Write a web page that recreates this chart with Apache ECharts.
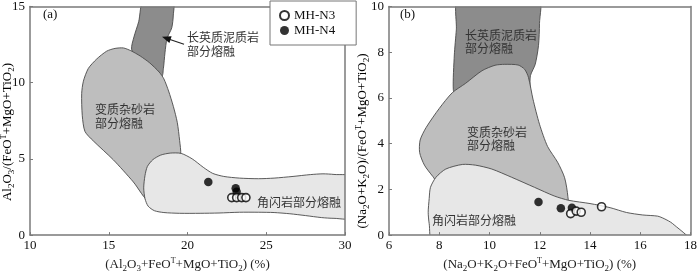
<!DOCTYPE html>
<html><head><meta charset="utf-8">
<script src="https://cdn.jsdelivr.net/npm/echarts@6/dist/echarts.min.js"></script>
<style>html,body{margin:0;padding:0;background:#fff}#c{width:700px;height:278px}</style>
</head><body><div id="c"></div>
<script>
// ---------- data ----------
const legendNames = ['MH-N3', 'MH-N4'];
const xTicksA = [10, 15, 20, 25, 30];
const yTicksA = [0, 5, 10, 15];
const xTicksB = [6, 8, 10, 12, 14, 16, 18];
const yTicksB = [0, 2, 4, 6, 8, 10];

// panel (a) fields
const aPelite = [[17.24,15.5],[19.08,15.5],[19.1,14.44],[19.0,13.6],[18.7,12.9],[18.57,11.96],[18.47,10.93],[18.36,10.4],[17.6,10.6],[16.9,11.2],[16.45,12.2],[16.6,13.0],[16.9,14.0]];
const aGreywacke = [[14.87,12.07],[15.4,12.25],[15.93,12.28],[16.4,12.1],[17.0,11.75],[17.6,11.3],[18.2,10.7],[18.5,10.25],[18.8,9.45],[19.1,8.45],[19.35,7.4],[19.5,6.2],[19.57,5.3],[19.3,3.8],[18.5,2.7],[17.6,2.15],[16.56,3.49],[15.29,4.94],[14.02,6.18],[13.49,6.8],[13.32,7.83],[13.28,9.28],[13.39,10.1],[13.7,10.93],[14.23,11.55]];
const aAmphibolite = [[17.22,3.1],[17.3,3.9],[17.45,4.5],[17.8,4.95],[18.3,5.25],[18.9,5.38],[19.6,5.36],[20.3,5.0],[21.0,4.45],[21.6,4.05],[22.3,3.85],[23.3,3.74],[24.5,3.7],[25.5,3.74],[26.7,3.85],[27.8,3.97],[28.6,4.02],[29.3,3.98],[30.6,3.8],[30.6,1.15],[29.3,1.1],[28.5,1.15],[27.5,1.28],[26.5,1.4],[25.5,1.48],[24.5,1.5],[23.3,1.5],[22.0,1.45],[20.8,1.43],[19.5,1.43],[18.5,1.48],[17.9,1.6],[17.5,1.9],[17.3,2.4]];
// panel (b) fields
const bPelite = [[8.78,10.4],[11.95,10.4],[11.99,9.26],[11.95,8.29],[11.82,7.47],[11.63,6.98],[11.5,6.0],[8.7,6.0],[8.56,6.36],[8.6,7.88],[8.68,8.98]];
const bGreywacke = [[10.61,7.47],[11.14,7.44],[11.4,7.25],[11.55,6.9],[11.73,5.95],[11.99,4.85],[12.31,3.88],[12.71,3.19],[12.99,2.51],[13.12,1.68],[13.1,1.2],[10.0,1.5],[7.94,2.31],[7.74,2.57],[7.41,3.06],[7.22,3.61],[7.24,4.16],[7.48,4.71],[8.0,5.54],[8.52,6.23],[9.05,6.64],[9.7,7.19],[10.22,7.43]];
const bAmphibolite = [[7.65,2.09],[7.87,2.53],[8.26,2.89],[8.92,3.09],[9.44,3.06],[10.09,2.89],[10.88,2.53],[11.79,2.09],[12.58,1.71],[13.16,1.52],[14.0,1.38],[14.8,1.2],[15.45,0.99],[16.1,0.88],[16.69,0.83],[16.95,0.72],[17.28,0.51],[18.0,-0.3],[7.76,-0.3],[7.6,0.5],[7.56,1.0],[7.6,1.6]];

// samples
const aN3 = [[22.81,2.46],[23.12,2.46],[23.44,2.46],[23.71,2.46]];
const aN4 = [[21.32,3.49],[23.06,3.08],[23.12,2.85]];
const bN3 = [[13.23,0.94],[13.45,1.05],[13.65,1.0],[14.46,1.24]];
const bN4 = [[11.95,1.45],[12.84,1.17],[13.28,1.2]];

// ---------- chart ----------
const SERIF = 'Liberation Serif';
const CJK = 'Noto Sans CJK SC';
const AXC = '#7a7a7a';
const FILL_DARK = '#8c8c8c', FILL_MID = '#bebebe', FILL_LIGHT = '#e7e7e7', EDGE = '#4a4a4a';

const rich = {
  n: {fontFamily: SERIF, fontSize: 13, color: '#222', lineHeight: 16},
  s: {fontFamily: SERIF, fontSize: 9, color: '#222', verticalAlign: 'bottom'},
  p: {fontFamily: SERIF, fontSize: 8, color: '#222', verticalAlign: 'top'}
};
const xNameA = '{n|(Al}{s|2}{n|O}{s|3}{n|+FeO}{p|T}{n|+MgO+TiO}{s|2}{n|) (%)}';
const yNameA = '{n|Al}{s|2}{n|O}{s|3}{n|/(FeO}{p|T}{n|+MgO+TiO}{s|2}{n|)}';
const xNameB = '{n|(Na}{s|2}{n|O+K}{s|2}{n|O+FeO}{p|T}{n|+MgO+TiO}{s|2}{n|) (%)}';
const yNameB = '{n|(Na}{s|2}{n|O+K}{s|2}{n|O)/(FeO}{p|T}{n|+MgO+TiO}{s|2}{n|)}';

function mainX(idx, ticks, name) {
  return {
    gridIndex: idx, type: 'value', min: ticks[0], max: ticks[ticks.length-1],
    interval: ticks[1]-ticks[0], z: 10,
    name: name, nameLocation: 'middle', nameGap: 19,
    nameTextStyle: {rich: rich},
    axisLine: {show: true, lineStyle: {color: AXC, width: 1.5}},
    axisTick: {show: true, inside: true, length: 3, lineStyle: {color: AXC}},
    axisLabel: {margin: 4, fontFamily: SERIF, fontSize: 13, color: '#111'},
    splitLine: {show: false}
  };
}
function mainY(idx, ticks) {
  return {
    gridIndex: idx, type: 'value', min: ticks[0], max: ticks[ticks.length-1],
    interval: ticks[1]-ticks[0], z: 10,
    axisLine: {show: true, lineStyle: {color: AXC, width: 1.5}},
    axisTick: {show: true, inside: true, length: 3, lineStyle: {color: AXC}},
    axisLabel: {margin: 5, fontFamily: SERIF, fontSize: 13, color: '#111'},
    splitLine: {show: false}
  };
}
function frameAxis(idx, pos, ticks) {
  return {
    gridIndex: idx, type: 'value', position: pos, min: ticks[0], max: ticks[ticks.length-1], z: 10,
    axisLine: {show: true, onZero: false, lineStyle: {color: AXC, width: 1.5}},
    axisTick: {show: false}, axisLabel: {show: false}, splitLine: {show: false}
  };
}
function polySeries(data, gi, color, z) {
  return {
    type: 'custom', xAxisIndex: gi, yAxisIndex: gi, data: data, silent: true, z: z, clip: true,
    encode: {x: 0, y: 1},
    renderItem: function (params, api) {
      if (params.dataIndex !== 0) return null;
      const pts = data.map(p => api.coord(p));
      return {type: 'polygon', shape: {points: pts, smooth: 0.25},
              style: {fill: color, stroke: EDGE, lineWidth: 0.9}};
    }
  };
}
const N3style = {symbol: 'circle', symbolSize: 8, itemStyle: {color: '#fff', borderColor: '#000', borderWidth: 1.6}};
const N4style = {symbol: 'circle', symbolSize: 8.5, itemStyle: {color: '#000', borderColor: '#000', borderWidth: 0}};
function scat(name, data, gi, st) {
  return Object.assign({type: 'scatter', name: name, xAxisIndex: gi, yAxisIndex: gi, data: data, z: 5, silent: true}, st);
}

function cjk(text, x, y, lh) {
  return {type: 'text', x: x, y: y, z: 20, silent: true,
    style: {text: text, font: '12px "' + CJK + '"', fill: '#333', lineHeight: lh, textVerticalAlign: 'top'}};
}

const option = {
  animation: false,
  backgroundColor: '#fff',
  grid: [
    {left: 30, top: 1, width: 315, height: 242},
    {left: 389, top: 2, width: 306, height: 242}
  ],
  xAxis: [
    mainX(0, xTicksA, xNameA), mainX(1, xTicksB, xNameB),
    frameAxis(0, 'top', xTicksA), frameAxis(1, 'top', xTicksB)
  ],
  yAxis: [
    mainY(0, yTicksA), mainY(1, yTicksB),
    frameAxis(0, 'right', yTicksA), frameAxis(1, 'right', yTicksB)
  ],
  legend: {
    data: legendNames, orient: 'vertical', left: 270, top: 1,
    padding: [8, 21, 8, 9], itemGap: 2, itemWidth: 9, itemHeight: 9,
    backgroundColor: '#fff', borderColor: '#777', borderWidth: 1, borderRadius: 0,
    textStyle: {fontFamily: SERIF, fontSize: 13, color: '#111'},
    selectedMode: false, z: 30
  },
  series: [
    polySeries(aPelite, 0, FILL_DARK, 1),
    polySeries(aGreywacke, 0, FILL_MID, 2),
    polySeries(aAmphibolite, 0, FILL_LIGHT, 3),
    polySeries(bPelite, 1, FILL_DARK, 1),
    polySeries(bGreywacke, 1, FILL_MID, 2),
    polySeries(bAmphibolite, 1, FILL_LIGHT, 3),
    scat('MH-N4', aN4, 0, N4style),
    scat('MH-N3', aN3, 0, N3style),
    scat('MH-N4', bN4, 1, N4style),
    scat('MH-N3', bN3, 1, N3style)
  ],
  graphic: [
    {type: 'text', x: 8, y: 132, rotation: Math.PI/2, z: 20, silent: true,
     style: {text: yNameA, rich: rich, textAlign: 'center', textVerticalAlign: 'middle'}},
    {type: 'text', x: 363, y: 141, rotation: Math.PI/2, z: 20, silent: true,
     style: {text: yNameB, rich: rich, textAlign: 'center', textVerticalAlign: 'middle'}},
    {type: 'text', x: 43, y: 15, z: 20, silent: true,
     style: {text: '(a)', font: '13px "' + SERIF + '"', fill: '#111', textVerticalAlign: 'middle'}},
    {type: 'text', x: 400, y: 15, z: 20, silent: true,
     style: {text: '(b)', font: '13px "' + SERIF + '"', fill: '#111', textVerticalAlign: 'middle'}},
    cjk('长英质泥质岩\n部分熔融', 187, 30, 14),
    cjk('变质杂砂岩\n部分熔融', 95, 102, 14),
    cjk('角闪岩部分熔融', 257, 195, 14),
    cjk('长英质泥质岩\n部分熔融', 465, 28.5, 13),
    cjk('变质杂砂岩\n部分熔融', 467, 125.5, 13),
    cjk('角闪岩部分熔融', 432, 213, 14),
    {type: 'line', z: 20, silent: true, shape: {x1: 184, y1: 44.3, x2: 170, y2: 39.5},
     style: {stroke: '#222', lineWidth: 1.2}},
    {type: 'polygon', z: 20, silent: true, shape: {points: [[162, 36.7], [171.6, 36.2], [169.4, 42.9]]},
     style: {fill: '#111'}}
  ]
};
const chart = echarts.init(document.getElementById('c'), null, {renderer: 'canvas'});
chart.setOption(option);
</script>
</body></html>
